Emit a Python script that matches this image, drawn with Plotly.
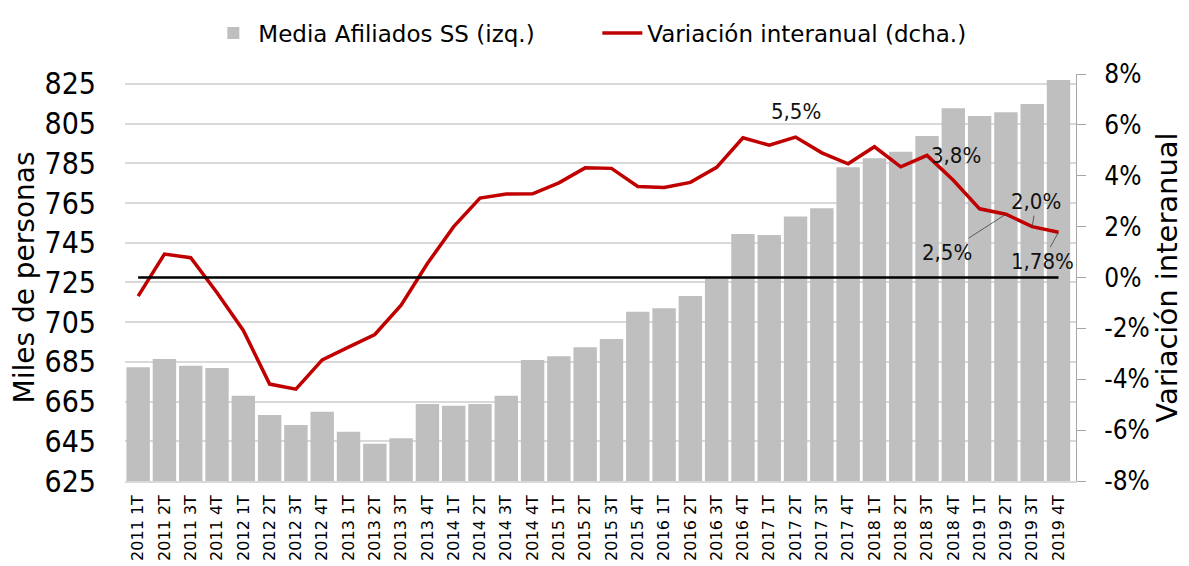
import plotly.graph_objects as go

# Trimestres 2011 1T ... 2019 4T
trimestres = [f"{a} {t}T" for a in range(2011, 2020) for t in range(1, 5)]

# Media de afiliados a la SS (miles de personas), eje izquierdo
afiliados = [682.3, 686.5, 683.1, 681.9, 668.0, 658.2, 653.2, 659.9,
             649.8, 643.8, 646.5, 663.8, 662.9, 663.8, 668.0, 686.0,
             687.8, 692.4, 696.5, 710.3, 712.0, 718.2, 727.0, 749.4,
             748.9, 758.2, 762.4, 783.0, 787.6, 790.9, 798.8, 812.8,
             808.9, 810.7, 814.9, 827.0]

# Variacion interanual (%), eje derecho
variacion = [-0.73, 0.92, 0.78, -0.6, -2.08, -4.19, -4.39, -3.24,
             -2.74, -2.24, -1.09, 0.55, 2.0, 3.12, 3.28, 3.29,
             3.72, 4.31, 4.29, 3.58, 3.54, 3.74, 4.33, 5.49,
             5.2, 5.52, 4.9, 4.47, 5.14, 4.35, 4.8, 3.82,
             2.7, 2.49, 2.0, 1.78]

left_ticks = list(range(625, 826, 20))
right_ticks = list(range(-8, 9, 2))
right_labels = [f"{v}%" for v in right_ticks]

COND = "'DejaVu Sans Condensed', 'Liberation Sans Narrow', Lato, sans-serif"
REG = "'DejaVu Sans', Verdana, sans-serif"

fig = go.Figure()

fig.add_trace(go.Bar(
    x=trimestres, y=afiliados, name="Media Afiliados SS (izq.)",
    marker=dict(color="#bfbfbf", line=dict(width=0)),
))

fig.add_trace(go.Scatter(
    x=trimestres, y=variacion, name="Variación interanual (dcha.)",
    mode="lines", yaxis="y2",
    line=dict(color="#c00000", width=3.5),
))

# linea del 0% en el eje derecho
fig.add_shape(type="line", xref="x", yref="y2",
              x0=trimestres[0], x1=trimestres[-1], y0=0, y1=0,
              line=dict(color="black", width=2.5))

# etiquetas de datos
arrow = dict(showarrow=True, arrowhead=0, arrowwidth=0.8, arrowcolor="#404040")
etiquetas = [
    (25, "5,5%", dict(showarrow=False, yshift=26)),
    (31, "3,8%", dict(showarrow=False, yshift=25, xshift=3)),
    (33, "2,5%", dict(ax=-59, ay=38, **arrow)),
    (34, "2,0%", dict(ax=4, ay=-25, **arrow)),
    (35, "1,78%", dict(ax=-16, ay=29, **arrow)),
]
for i, txt, extra in etiquetas:
    fig.add_annotation(x=trimestres[i], y=variacion[i], xref="x", yref="y2",
                       text=txt, font=dict(size=22, color="#111111", family=COND),
                       **extra)

# la pagina deja 8px de margen en body: se compensa aqui
fig.update_layout(
    width=1181, height=558,
    margin=dict(l=117, r=113, t=66, b=85),
    plot_bgcolor="white", paper_bgcolor="white",
    font=dict(family=COND, color="black"),
    bargap=0.11,
    showlegend=True,
    legend=dict(orientation="h", xref="container", x=0.499, xanchor="center",
                yref="container", y=0.955, yanchor="middle",
                font=dict(size=23, family=REG), traceorder="normal", itemwidth=40,
                entrywidth=334, entrywidthmode="pixels"),
    xaxis=dict(
        type="category", tickangle=-90, tickfont=dict(size=16, family=REG),
        showgrid=False, showline=True, linecolor="#d9d9d9", linewidth=1.5,
        ticks="", ticklabelstandoff=6, automargin=False,
    ),
    yaxis=dict(
        range=[625, 830], tickvals=left_ticks, tickfont=dict(size=30),
        showgrid=True, gridcolor="#d9d9d9", gridwidth=1.5,
        zeroline=False, showline=False, ticks="", ticklabelstandoff=28,
        automargin=False,
        title=dict(text="Miles de personas", font=dict(size=28, family=REG), standoff=2),
    ),
    yaxis2=dict(
        overlaying="y", side="right", range=[-8, 8],
        tickmode="array", tickvals=right_ticks, ticktext=right_labels,
        tickfont=dict(size=26),
        showgrid=False, zeroline=False,
        showline=True, linecolor="#a6a6a6", linewidth=1.2,
        ticks="outside", ticklen=9, tickcolor="#a6a6a6", ticklabelstandoff=13,
        automargin=False,
        title=dict(text="Variación interanual", font=dict(size=29, family=REG), standoff=2),
    ),
)

fig.write_html("out.html")
